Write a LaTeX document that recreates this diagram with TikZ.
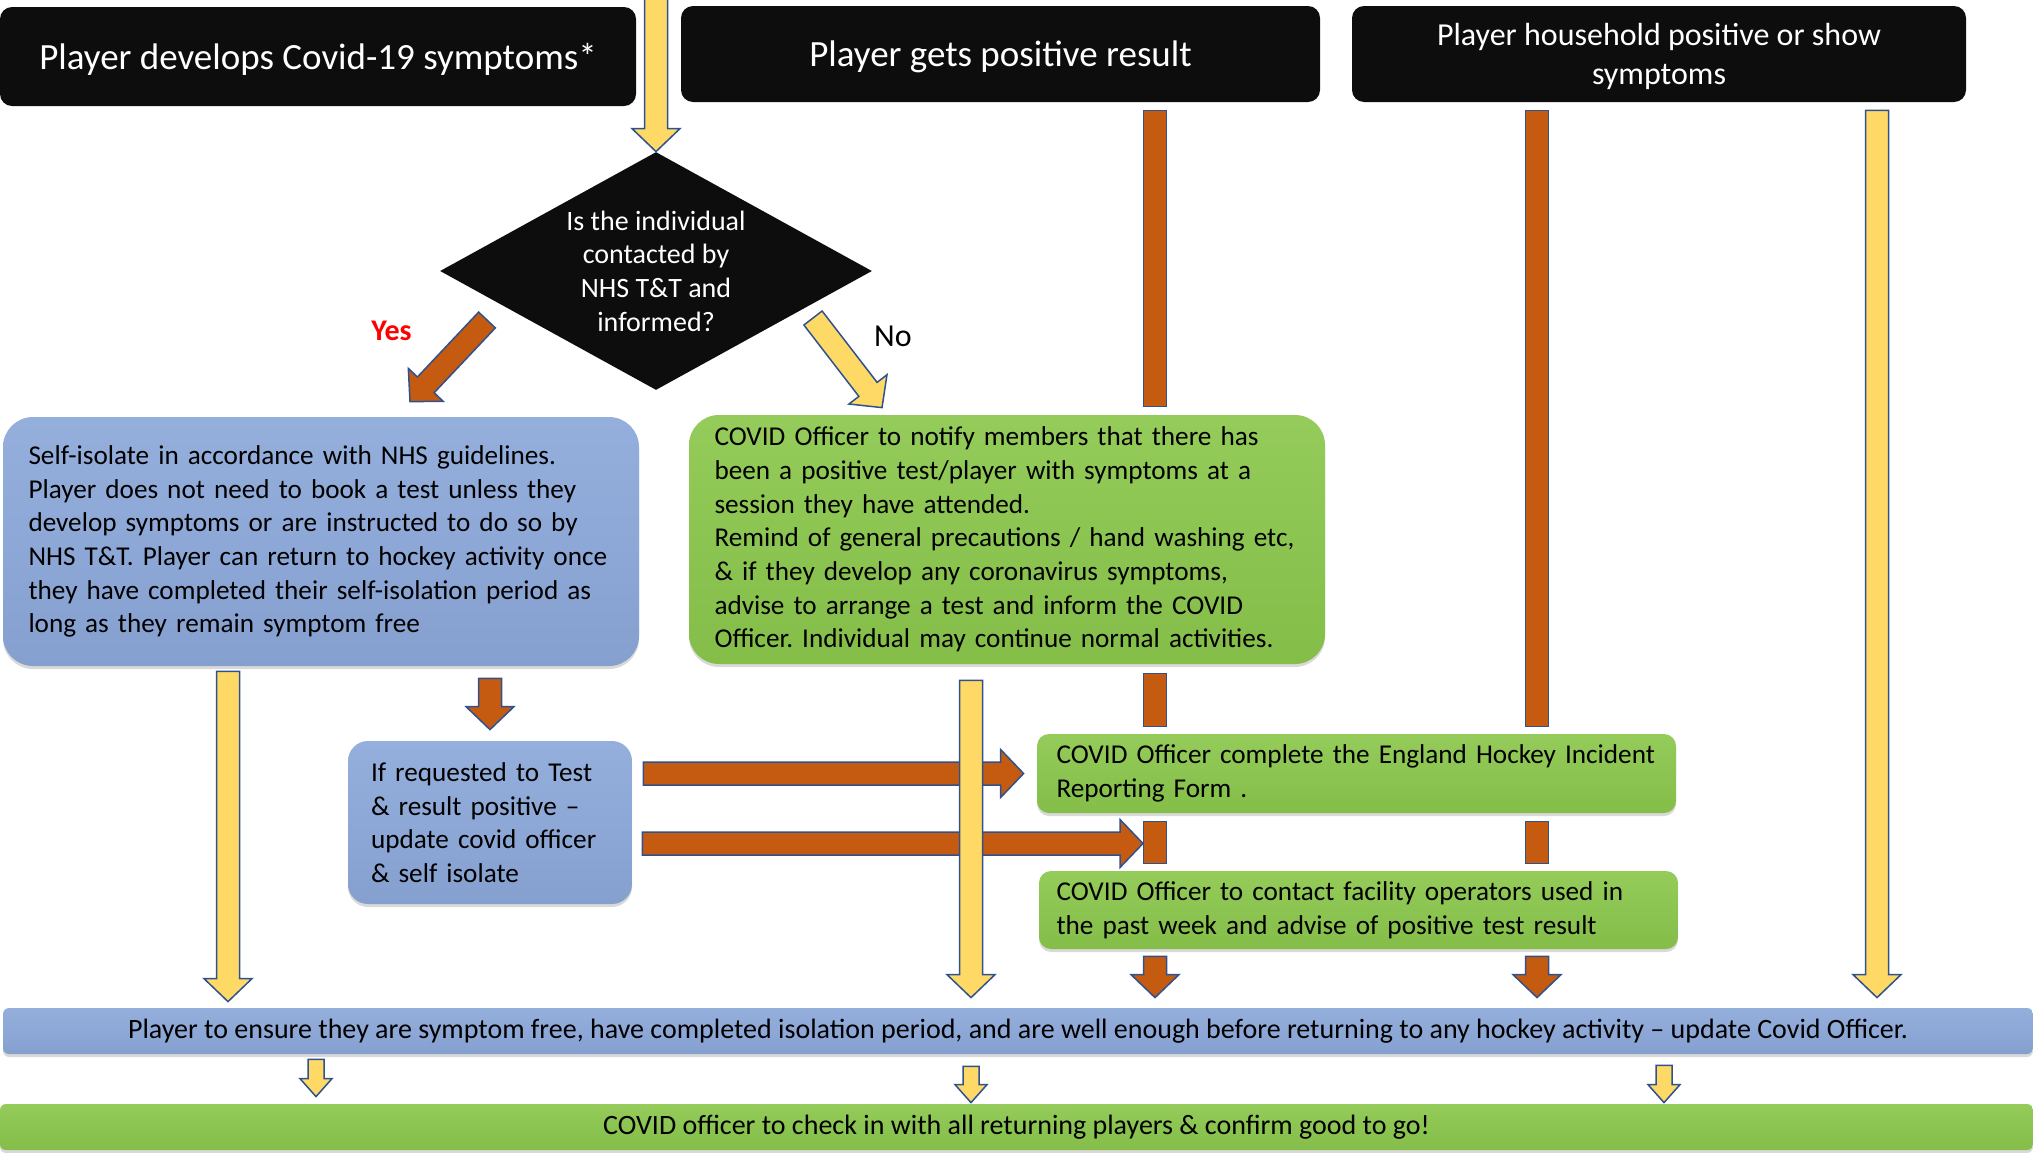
\documentclass[tikz,border=0pt]{standalone}
\usepackage{fontspec}
\setmainfont{Carlito}
\usetikzlibrary{shapes.geometric,calc,shadows}
\frenchspacing

\definecolor{hdrblack}{HTML}{0D0D0D}
\definecolor{boxblue}{HTML}{8CA8DA}
\definecolor{boxgreen}{HTML}{8BC74C}
\definecolor{arrowbrown}{HTML}{C55A11}
\definecolor{arrowyellow}{HTML}{FFD966}
\definecolor{arrowline}{HTML}{2F528F}

\newcommand{\bodyfont}{\fontsize{14}{16.85}\selectfont}
\newcommand{\boxfont}{\fontsize{13.6}{16.85}\selectfont}
\newcommand{\hdrfont}{\fontsize{18.5}{21}\selectfont}

% block arrow sizes (half shaft, half head, head length)
\newcommand{\bwS}{5.75pt}
\newcommand{\bwH}{12pt}
\newcommand{\bwL}{11.5pt}

% block arrow: style, from, to
\newcommand{\blockarrow}[3]{%
  \path #2 coordinate (ba-s) #3 coordinate (ba-e);
  \coordinate (ba-n) at ($(ba-e)!\bwL!(ba-s)$);
  \draw[#1] ($(ba-s)!\bwS!90:(ba-e)$) -- ($(ba-n)!\bwS!90:(ba-e)$) -- ($(ba-n)!\bwH!90:(ba-e)$)
    -- (ba-e) -- ($(ba-n)!\bwH!-90:(ba-e)$) -- ($(ba-n)!\bwS!-90:(ba-e)$) -- ($(ba-s)!\bwS!-90:(ba-e)$) -- cycle;
}
% block bar without head: style, from, to
\newcommand{\blockbar}[3]{%
  \path #2 coordinate (ba-s) #3 coordinate (ba-e);
  \draw[#1] ($(ba-s)!\bwS!90:(ba-e)$) -- ($(ba-e)!\bwS!-90:(ba-s)$) -- ($(ba-e)!\bwS!90:(ba-s)$) -- ($(ba-s)!\bwS!-90:(ba-e)$) -- cycle;
}

\tikzset{
  boxspan/.style n args={4}{minimum width={(#3-#1)*0.5pt}, minimum height={(#4-#2)*0.5pt}, at={({(#1+#3)/2},{(#2+#4)/2})}},
  hdrbox/.style={fill=hdrblack, rounded corners=6pt, text=white, inner sep=0pt, text depth=0pt, align=center, font=\hdrfont},
  diabox/.style={diamond, fill=hdrblack, text=white, inner sep=0pt, aspect=1.815, minimum width=216pt, minimum height=119pt, align=center, font=\bodyfont},
  bluebox/.style={top color=boxblue!92!white, bottom color=boxblue!95!black, rounded corners=15pt, inner sep=0pt, align=left, font=\boxfont, drop shadow={opacity=0.3, shadow xshift=0pt, shadow yshift=-1.5pt}},
  greenbox/.style={top color=boxgreen!92!white, bottom color=boxgreen!95!black, rounded corners=15pt, inner sep=0pt, align=left, font=\boxfont, drop shadow={opacity=0.3, shadow xshift=0pt, shadow yshift=-1.5pt}},
  yelarrow/.style={fill=arrowyellow, draw=arrowline, line width=0.75pt},
  brnarrow/.style={fill=arrowbrown, draw=arrowline, line width=0.75pt},
}

\begin{document}
\begin{tikzpicture}[x=0.5pt, y=-0.5pt]
\useasboundingbox (0,0) rectangle (2033,1152);
\clip (0,0) rectangle (2033,1152);

% Headers.
\node[hdrbox, boxspan={0}{7}{636}{106}] (hdr1) {Player develops Covid-19 symptoms*};
\node[hdrbox, boxspan={681}{6}{1320}{102}] (hdr2) {Player gets positive result};
\node[hdrbox, boxspan={1352}{6}{1966}{102}, font=\fontsize{16}{19.5}\selectfont] (hdr3) {Player household positive or show\\ symptoms};

\node[diabox] (dia) at (656,271) {Is the individual\\ contacted by\\ NHS T\&T and\\ informed?};
\node[font=\fontsize{15}{18}\selectfont\bfseries, text=red] (yes) at (391.5,331) {Yes};
\node[font=\fontsize{16}{19}\selectfont] (no) at (893,336) {No};

\node[bluebox, boxspan={3}{417}{639}{666}, text width=292.5pt] (iso) {Self-isolate in accordance with NHS guidelines.\\
  Player does not need to book a test unless they\\ develop symptoms or are instructed to do so by\\
  NHS T\&T. Player can return to hockey activity once\\ they have completed their self-isolation period as\\
  long as they remain symptom free};
\node[greenbox, boxspan={689}{415}{1325}{664}, text width=292.5pt] (notify) {COVID Officer to notify members that there has\\
  been a positive test/player with symptoms at a\\ session they have attended.\\
  Remind of general precautions / hand washing etc,\\ \& if they develop any coronavirus symptoms,\\
  advise to arrange a test and inform the COVID\\ Officer. Individual may continue normal activities.};
\node[bluebox, rounded corners=10pt, boxspan={348}{741}{632}{904}, text width=119pt] (small) {If requested to Test\\ \& result positive --\\ update covid officer\\ \& self isolate};
\node[greenbox, rounded corners=6pt, boxspan={1037}{734}{1676}{813}, text width=300pt] (rep) {COVID Officer complete the England Hockey Incident\\ Reporting Form .};
\node[greenbox, rounded corners=6pt, boxspan={1039}{871}{1678}{949}, text width=302pt] (fac) {COVID Officer to contact facility operators used in\\ the past week and advise of positive test result};

% Bottom bars.
\node[bluebox, rounded corners=3pt, boxspan={3}{1008}{2033}{1054}, align=center, font=\bodyfont] (ret) {Player to ensure they are symptom free, have completed isolation period, and are well enough before returning to any hockey activity -- update Covid Officer.};
\node[greenbox, rounded corners=3pt, boxspan={0}{1104}{2033}{1150}, align=center, font=\bodyfont] (chk) {COVID officer to check in with all returning players \& confirm good to go!};

\coordinate (colA) at (228,0);
\coordinate (colB) at (490,0);
\coordinate (colD) at (971,0);
\coordinate (colE) at (1155,0);
\coordinate (colF) at (1537,0);
\coordinate (colG) at (1877,0);
\coordinate (colH) at (316,0);
\coordinate (colI) at (1664,0);
\coordinate (topin) at (656,-20);
\coordinate (yes-a) at (487,320);
\coordinate (no-a) at (813,318);

\blockarrow{yelarrow}{(topin)}{(dia.north)}
\blockarrow{brnarrow}{(yes-a)}{($(iso.north)+(89,-15)$)}
\blockarrow{yelarrow}{(no-a)}{($(notify.north)+(-125,-7)$)}

\blockbar{brnarrow}{($(hdr2.south -| colE)+(0,8)$)}{($(notify.north -| colE)+(0,-8)$)}
\blockbar{brnarrow}{($(hdr3.south -| colF)+(0,8)$)}{($(rep.north -| colF)+(0,-7)$)}
\blockarrow{yelarrow}{($(hdr3.south -| colG)+(0,8)$)}{($(ret.north -| colG)+(0,-10)$)}

\blockarrow{yelarrow}{($(iso.south -| colA)+(0,5)$)}{($(ret.north -| colA)+(0,-6)$)}
\blockarrow{brnarrow}{($(iso.south -| colB)+(0,12)$)}{($(small.north -| colB)+(0,-11)$)}

\blockbar{brnarrow}{($(notify.south -| colE)+(0,9)$)}{($(rep.north -| colE)+(0,-7)$)}
\foreach \c in {colE,colF}{
  \blockbar{brnarrow}{($(rep.south -| \c)+(0,8)$)}{($(fac.north -| \c)+(0,-7)$)}
  \blockarrow{brnarrow}{($(fac.south -| \c)+(0,7)$)}{($(ret.north -| \c)+(0,-10)$)}
}

\blockarrow{brnarrow}{($(small.east)+(11,-49)$)}{($(rep.west)+(-13,0)$)}
\blockarrow{brnarrow}{($(small.east)+(10,21)$)}{($(colE |- small.east)+(-12,21)$)}
\blockarrow{yelarrow}{($(notify.south -| colD)+(0,16)$)}{($(ret.north -| colD)+(0,-10)$)} % over the brown ones

\begin{scope}
  \renewcommand{\bwS}{4pt}\renewcommand{\bwH}{8pt}\renewcommand{\bwL}{9pt}
  \blockarrow{yelarrow}{($(ret.south -| colH)+(0,5)$)}{($(chk.north -| colH)+(0,-7)$)}
  \blockarrow{yelarrow}{($(ret.south -| colD)+(0,12)$)}{($(chk.north -| colD)+(0,-1)$)}
  \blockarrow{yelarrow}{($(ret.south -| colI)+(0,11)$)}{($(chk.north -| colI)+(0,-1)$)}
\end{scope}
\end{tikzpicture}
\end{document}
